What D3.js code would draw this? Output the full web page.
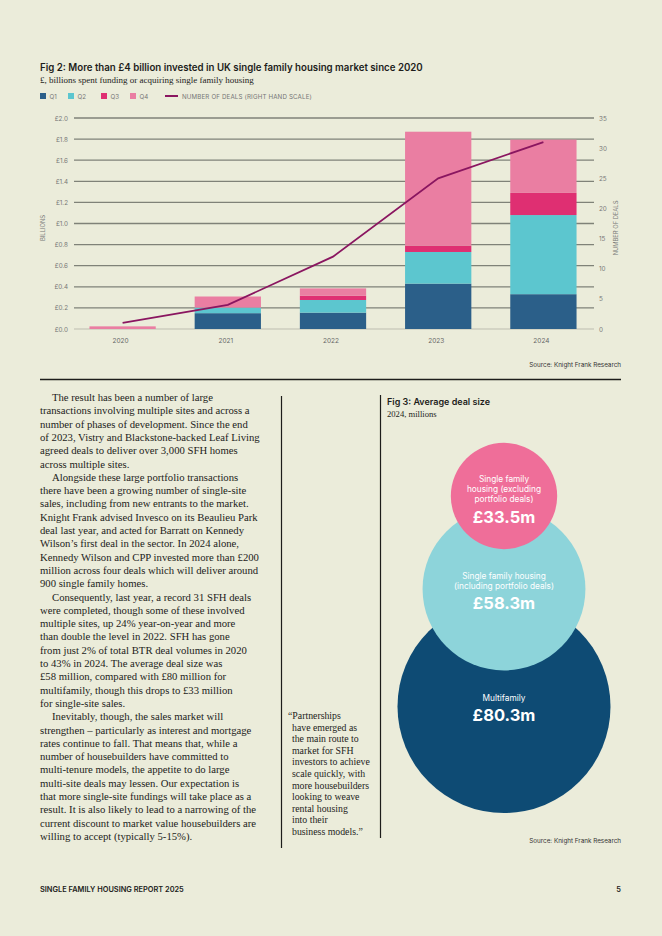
<!DOCTYPE html>
<html lang="en">
<head>
<meta charset="UTF-8">
<title>Single family housing report - page 5</title>
<style>
    body { margin: 0; background: #ebecda; }
    svg { display: block; }
    .sans { font-family: Inter, Roboto, "Liberation Sans", sans-serif; }
    .serif { font-family: "Liberation Serif", serif; }
</style>
</head>
<body>
<svg id="page" width="662" height="936"></svg>
<script src="https://d3js.org/d3.v7.min.js"></script>
<script>
    // Fig 2 data
    const years = ["2020", "2021", "2022", "2023", "2024"];
    const quarters = ["Q1", "Q2", "Q3", "Q4"];
    const q1 = [0, 0.15, 0.155, 0.43, 0.33];
    const q2 = [0, 0.053, 0.12, 0.30, 0.75];
    const q3 = [0, 0, 0.04, 0.06, 0.21];
    const q4 = [0.025, 0.105, 0.07, 1.08, 0.505];
    const deals = [1, 4, 12, 25, 31];
    const leftTicks = [0, 0.2, 0.4, 0.6, 0.8, 1.0, 1.2, 1.4, 1.6, 1.8, 2.0];
    const rightTicks = [0, 5, 10, 15, 20, 25, 30, 35];

    // Fig 3 data
    const dealTypes = ["Multifamily", "Single family housing (including portfolio deals)", "Single family housing (excluding portfolio deals)"];
    const dealSize = [80.3, 58.3, 33.5];

    const quarterColors = ["#2b5f89", "#5cc6cf", "#df2f72", "#ea7ea2"];

    const svg = d3.select("#page");
    svg.append("rect").attr("width", 662).attr("height", 936).attr("fill", "#ebecda");

    // ---------- Fig 2 ----------
    svg.append("text").attr("class", "sans")
        .attr("x", 40).attr("y", 71)
        .style("font-size", "9.7px").style("font-weight", 600).attr("fill", "#1d1d1b")
        .text("Fig 2: More than £4 billion invested in UK single family housing market since 2020");
    svg.append("text").attr("class", "serif")
        .attr("x", 40).attr("y", 83)
        .style("font-size", "9px").attr("fill", "#1d1d1b")
        .text("£, billions spent funding or acquiring single family housing");

    // legend
    const legend = svg.append("g").attr("class", "sans").style("font-size", "6.2px").attr("fill", "#777");
    const legX = [40, 68, 101, 130];
    quarters.forEach((q, i) => {
        legend.append("rect").attr("x", legX[i]).attr("y", 93).attr("width", 6).attr("height", 6).attr("fill", quarterColors[i]);
        legend.append("text").attr("x", legX[i] + 9.5).attr("y", 98.5).text(q);
    });
    legend.append("line").attr("x1", 165).attr("x2", 178).attr("y1", 96).attr("y2", 96)
        .attr("stroke", "#8a1660").attr("stroke-width", 2);
    legend.append("text").attr("x", 182).attr("y", 98.5).style("letter-spacing", "0.15px")
        .text("NUMBER OF DEALS (RIGHT HAND SCALE)");

    const x = d3.scaleBand().domain(years).range([70, 596]).paddingInner(0.37).paddingOuter(0.185);
    const y = d3.scaleLinear().domain([0, 2]).range([329, 118]);
    const y2 = d3.scaleLinear().domain([0, 35]).range([329, 118]);

    // gridlines
    const grid = svg.append("g");
    grid.selectAll("line").data(leftTicks).join("line")
        .attr("x1", 74).attr("x2", 594)
        .attr("y1", d => y(d)).attr("y2", d => y(d))
        .attr("stroke", d => d === 0 ? "#bdbdb0" : "#7f8278")
        .attr("stroke-width", d => d === 0 ? 1 : 1.3);

    // left axis
    const yAxis = svg.append("g").attr("transform", "translate(68,0)")
        .call(d3.axisLeft(y).tickValues(leftTicks).tickSize(0).tickPadding(0)
            .tickFormat(d => "£" + d3.format(".1f")(d)));
    yAxis.select(".domain").remove();
    yAxis.selectAll("text").attr("class", "sans").style("font-size", "6.3px").attr("fill", "#777");

    // right axis
    const y2Axis = svg.append("g").attr("transform", "translate(599,0)")
        .call(d3.axisRight(y2).tickValues(rightTicks).tickSize(0).tickPadding(0));
    y2Axis.select(".domain").remove();
    y2Axis.selectAll("text").attr("class", "sans").style("font-size", "6.3px").attr("fill", "#777");

    svg.append("text").attr("class", "sans")
        .attr("transform", "translate(45,228) rotate(-90)")
        .attr("text-anchor", "middle").style("font-size", "5.8px").attr("fill", "#777")
        .text("BILLIONS");
    svg.append("text").attr("class", "sans")
        .attr("transform", "translate(618,228) rotate(-90)")
        .attr("text-anchor", "middle").style("font-size", "5.8px").attr("fill", "#777")
        .text("NUMBER OF DEALS");

    // stacked bars
    const table = years.map((yr, i) => ({ year: yr, Q1: q1[i], Q2: q2[i], Q3: q3[i], Q4: q4[i] }));
    const series = d3.stack().keys(quarters)(table);
    svg.append("g").selectAll("g").data(series).join("g")
        .attr("fill", (d, i) => quarterColors[i])
        .selectAll("rect").data(d => d).join("rect")
        .attr("x", d => x(d.data.year))
        .attr("width", x.bandwidth())
        .attr("y", d => y(d[1]))
        .attr("height", d => y(d[0]) - y(d[1]));

    // x axis labels
    const xAxis = svg.append("g").attr("transform", "translate(-2,338)")
        .call(d3.axisBottom(x).tickSize(0).tickPadding(0));
    xAxis.select(".domain").remove();
    xAxis.selectAll("text").attr("class", "sans").style("font-size", "6.5px").attr("fill", "#666");

    // deals line
    const line = d3.line()
        .x((d, i) => x(years[i]) + x.bandwidth() / 2)
        .y(d => y2(d));
    svg.append("path").datum(deals)
        .attr("d", line).attr("fill", "none")
        .attr("stroke", "#8a1660").attr("stroke-width", 1.8);

    svg.append("text").attr("class", "sans")
        .attr("x", 621).attr("y", 367).attr("text-anchor", "end")
        .style("font-size", "6.3px").attr("fill", "#333")
        .text("Source: Knight Frank Research");

    svg.append("line").attr("x1", 40).attr("x2", 621).attr("y1", 379.5).attr("y2", 379.5)
        .attr("stroke", "#1d1d1b").attr("stroke-width", 1.3);

    // ---------- body copy ----------
    const bodyLines = [
        ["The result has been a number of large", true],
        ["transactions involving multiple sites and across a", false],
        ["number of phases of development. Since the end", false],
        ["of 2023, Vistry and Blackstone-backed Leaf Living", false],
        ["agreed deals to deliver over 3,000 SFH homes", false],
        ["across multiple sites.", false],
        ["Alongside these large portfolio transactions", true],
        ["there have been a growing number of single-site", false],
        ["sales, including from new entrants to the market.", false],
        ["Knight Frank advised Invesco on its Beaulieu Park", false],
        ["deal last year, and acted for Barratt on Kennedy", false],
        ["Wilson’s first deal in the sector. In 2024 alone,", false],
        ["Kennedy Wilson and CPP invested more than £200", false],
        ["million across four deals which will deliver around", false],
        ["900 single family homes.", false],
        ["Consequently, last year, a record 31 SFH deals", true],
        ["were completed, though some of these involved", false],
        ["multiple sites, up 24% year-on-year and more", false],
        ["than double the level in 2022. SFH has gone", false],
        ["from just 2% of total BTR deal volumes in 2020", false],
        ["to 43% in 2024. The average deal size was", false],
        ["£58 million, compared with £80 million for", false],
        ["multifamily, though this drops to £33 million", false],
        ["for single-site sales.", false],
        ["Inevitably, though, the sales market will", true],
        ["strengthen – particularly as interest and mortgage", false],
        ["rates continue to fall. That means that, while a", false],
        ["number of housebuilders have committed to", false],
        ["multi-tenure models, the appetite to do large", false],
        ["multi-site deals may lessen. Our expectation is", false],
        ["that more single-site fundings will take place as a", false],
        ["result. It is also likely to lead to a narrowing of the", false],
        ["current discount to market value housebuilders are", false],
        ["willing to accept (typically 5-15%).", false]
    ];
    svg.append("g").attr("class", "serif").style("font-size", "10.7px").attr("fill", "#1d1d1b")
        .selectAll("text").data(bodyLines).join("text")
        .attr("x", d => d[1] ? 52 : 40)
        .attr("y", (d, i) => 401 + i * 13.3)
        .text(d => d[0]);

    svg.append("line").attr("x1", 281.5).attr("x2", 281.5).attr("y1", 396).attr("y2", 848)
        .attr("stroke", "#1d1d1b").attr("stroke-width", 1.2);
    svg.append("line").attr("x1", 380.5).attr("x2", 380.5).attr("y1", 395).attr("y2", 838)
        .attr("stroke", "#1d1d1b").attr("stroke-width", 1.2);

    const quoteLines = [
        "“Partnerships", "have emerged as", "the main route to", "market for SFH",
        "investors to achieve", "scale quickly, with", "more housebuilders",
        "looking to weave", "rental housing", "into their", "business models.”"
    ];
    svg.append("g").attr("class", "serif").style("font-size", "9.8px").attr("fill", "#1d1d1b")
        .selectAll("text").data(quoteLines).join("text")
        .attr("x", (d, i) => i === 0 ? 288 : 292)
        .attr("y", (d, i) => 719 + i * 11.6)
        .text(d => d);

    // ---------- Fig 3 ----------
    svg.append("text").attr("class", "sans")
        .attr("x", 387).attr("y", 405)
        .style("font-size", "9px").style("font-weight", 600).attr("fill", "#1d1d1b")
        .text("Fig 3: Average deal size");
    svg.append("text").attr("class", "serif")
        .attr("x", 387).attr("y", 417)
        .style("font-size", "8.6px").attr("fill", "#1d1d1b")
        .text("2024, millions");

    const r = d3.scaleLinear().domain([0, 80.3]).range([15, 106.5]);
    const bubbleColors = ["#0e4b74", "#8dd4da", "#ef6e99"];
    const bubbleCy = [706.5, 589, 496];
    const bubbleCx = 504;
    const bubbles = svg.append("g");
    bubbles.selectAll("circle").data(dealSize).join("circle")
        .attr("cx", bubbleCx).attr("cy", (d, i) => bubbleCy[i])
        .attr("r", d => r(d)).attr("fill", (d, i) => bubbleColors[i]);

    const bubbleLabels = [
        { lines: ["Multifamily"], y0: 701, vy: 721 },
        { lines: ["Single family housing", "(including portfolio deals)"], y0: 579, vy: 609 },
        { lines: ["Single family", "housing (excluding", "portfolio deals)"], y0: 482, vy: 523 }
    ];
    dealSize.forEach((v, i) => {
        const lab = bubbleLabels[i];
        const g = svg.append("g").attr("class", "sans").attr("text-anchor", "middle").attr("fill", "#fff");
        lab.lines.forEach((t, j) => {
            g.append("text").attr("x", bubbleCx).attr("y", lab.y0 + j * 10)
                .style("font-size", "8.3px").text(t);
        });
        g.append("text").attr("x", bubbleCx).attr("y", lab.vy)
            .style("font-size", "16.5px").style("font-weight", 700)
            .text("£" + d3.format(".1f")(v) + "m");
    });

    svg.append("text").attr("class", "sans")
        .attr("x", 621).attr("y", 843).attr("text-anchor", "end")
        .style("font-size", "6.3px").attr("fill", "#333")
        .text("Source: Knight Frank Research");

    // footer
    svg.append("text").attr("class", "sans")
        .attr("x", 40).attr("y", 892)
        .style("font-size", "7.4px").style("font-weight", 600).attr("fill", "#1d1d1b")
        .text("SINGLE FAMILY HOUSING REPORT 2025");
    svg.append("text").attr("class", "sans")
        .attr("x", 621).attr("y", 892).attr("text-anchor", "end")
        .style("font-size", "7.4px").style("font-weight", 600).attr("fill", "#1d1d1b")
        .text("5");
</script>
</body>
</html>
